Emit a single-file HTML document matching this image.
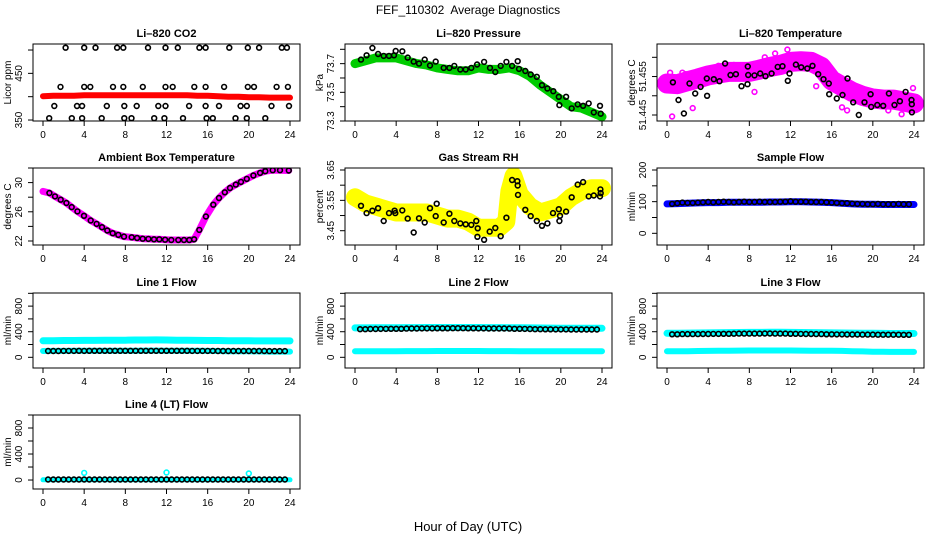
<!DOCTYPE html>
<html><head><meta charset="utf-8"><style>
html,body{margin:0;padding:0;background:#fff}
svg{display:block;font-family:"Liberation Sans",sans-serif}
</style></head><body>
<svg id="fig" width="936" height="540" viewBox="0 0 936 540" xmlns="http://www.w3.org/2000/svg">
<rect x="0" y="0" width="936" height="540" fill="#fff"/>
<text x="468" y="14" font-size="12" text-anchor="middle" xml:space="preserve">FEF_110302  Average Diagnostics</text>
<text x="468" y="531" font-size="13" text-anchor="middle">Hour of Day (UTC)</text>
</svg>
<script>
// ---- data ----
const hourly = [0,1,2,3,4,5,6,7,8,9,10,11,12,13,14,15,16,17,18,19,20,21,22,23,24];
const halfHours = [0.5,1,1.5,2,2.5,3,3.5,4,4.5,5,5.5,6,6.5,7,7.5,8,8.5,9,9.5,10,10.5,11,11.5,12,12.5,13,13.5,14,14.5,15,15.5,16,16.5,17,17.5,18,18.5,19,19.5,20,20.5,21,21.5,22,22.5,23,23.5];
const xTicks = [0,4,8,12,16,20,24];

const co2Band = [401,402,402,402,403,403,403,403,403,403,403,403,403,403,403,402,402,401,400,400,399,399,398,398,398];
const co2Hours = [2.2,4.0,5.1,7.2,7.8,10.2,11.9,13.1,15.2,15.8,18.1,19.9,21.0,23.2,23.7,
 1.7,4.0,4.6,6.8,7.8,9.7,11.9,12.6,14.7,15.8,17.6,19.9,20.5,22.7,23.8,
 1.1,3.3,3.8,6.2,7.9,9.1,11.2,11.9,14.2,15.8,17.1,19.2,19.8,22.2,23.9,
 0.6,2.8,3.8,5.7,7.9,8.6,10.8,11.8,13.6,15.9,16.5,18.7,19.8,21.6];
const co2Vals = [505,505,505,505,505,505,505,505,505,505,505,505,505,505,505,
 421,421,421,421,421,421,421,421,421,421,421,421,421,421,421,
 380,380,380,380,380,380,380,380,380,380,380,380,380,380,380,
 354,354,354,354,354,354,354,354,354,354,354,354,354,354];

const presBand = [73.70,73.72,73.74,73.74,73.74,73.72,73.70,73.69,73.67,73.66,73.65,73.65,73.67,73.66,73.66,73.67,73.65,73.61,73.55,73.50,73.45,73.40,73.39,73.36,73.33];
const presHours = [0.58,1.13,1.69,2.24,2.79,3.30,3.79,3.95,4.60,5.12,5.70,6.22,6.77,7.29,7.84,8.62,9.17,9.65,10.23,10.76,11.30,11.86,12.54,13.12,13.63,14.16,14.71,15.26,15.81,15.94,16.55,17.07,17.66,18.17,18.69,19.27,19.80,19.86,20.51,21.06,21.64,22.16,22.71,23.20,23.81,23.87];
const presVals = [73.728,73.758,73.809,73.767,73.754,73.754,73.758,73.788,73.786,73.742,73.714,73.700,73.728,73.687,73.714,73.670,73.670,73.684,73.659,73.659,73.670,73.694,73.712,73.670,73.642,73.684,73.712,73.684,73.717,73.663,73.649,73.624,73.608,73.550,73.527,73.508,73.469,73.411,73.469,73.388,73.416,73.406,73.423,73.360,73.406,73.351];

const tempBand = [51.4532,51.4530,51.4538,51.4545,51.4553,51.4558,51.4562,51.4562,51.4562,51.4568,51.4575,51.4580,51.4588,51.4590,51.4588,51.4575,51.4540,51.4525,51.4510,51.4500,51.4493,51.4490,51.4490,51.4485,51.4480];
const tempHours = [0.57,1.12,1.64,2.19,2.74,3.26,3.87,3.90,4.55,5.10,5.65,6.17,6.69,7.24,7.82,7.85,7.89,8.50,9.06,9.57,10.16,10.76,11.22,11.74,11.90,12.52,13.04,13.63,14.14,14.69,15.21,15.72,15.76,16.50,17.05,17.54,18.09,18.64,19.19,19.78,19.84,20.43,21.01,21.56,22.11,22.63,23.18,23.76,23.79,23.80];
const tempVals = [51.4535,51.4489,51.4454,51.4532,51.4506,51.4523,51.4545,51.4500,51.4543,51.4538,51.4584,51.4554,51.4556,51.4525,51.4530,51.4576,51.4554,51.4553,51.4558,51.4551,51.4558,51.4575,51.4577,51.4539,51.4558,51.4581,51.4574,51.4571,51.4578,51.4556,51.4543,51.4532,51.4504,51.4493,51.4502,51.4545,51.4483,51.4450,51.4483,51.4504,51.4471,51.4476,51.4474,51.4506,51.4476,51.4486,51.4510,51.4489,51.4478,51.4457];
const tempOutHours = [0.3,0.5,1.5,1.8,2.5,5.0,6.5,8.5,9.5,10.5,11.7,14.5,17.0,17.5,21.5,22.8,23.5,23.9];
const tempOutVals = [51.4560,51.4446,51.4560,51.4556,51.4468,51.4578,51.4580,51.4510,51.4600,51.4610,51.4620,51.4525,51.4470,51.4462,51.4462,51.4452,51.4475,51.4520];

const ambHours = [0,0.62,1.17,1.72,2.27,2.79,3.34,3.98,4.63,5.21,5.73,6.25,6.77,7.32,7.87,8.62,9.14,9.69,10.24,10.79,11.30,11.86,12.47,13.15,13.70,14.22,14.68,15.19,15.83,16.55,17.10,17.66,18.17,18.73,19.24,19.80,20.44,21.09,21.60,22.32,23.03,23.88];
const ambVals = [28.80,28.57,28.11,27.66,27.20,26.64,26.05,25.45,24.80,24.34,23.89,23.43,23.06,22.83,22.60,22.51,22.41,22.32,22.28,22.23,22.23,22.18,22.14,22.14,22.14,22.14,22.23,23.52,25.36,26.97,27.89,28.67,29.26,29.72,30.09,30.51,30.97,31.33,31.56,31.70,31.70,31.66];

const rhBandHours = [0,1,2,3,4,5,6,7,8,9,10,11,12,13,14,14.7,15,15.4,16,17,18,19,20,21,22,23,24];
const rhBand = [3.56,3.54,3.53,3.52,3.51,3.51,3.51,3.51,3.50,3.49,3.49,3.48,3.46,3.46,3.46,3.48,3.58,3.63,3.57,3.53,3.51,3.52,3.53,3.56,3.58,3.59,3.59];
const rhHours = [0.58,1.13,1.69,2.24,2.79,3.30,3.85,3.92,4.60,5.12,5.70,6.22,6.77,7.29,7.84,7.94,8.62,9.17,9.65,10.23,10.76,11.30,11.79,11.92,11.89,12.54,13.09,13.63,14.16,14.71,15.26,15.77,15.81,15.84,16.55,17.07,17.66,18.17,18.69,19.24,19.80,19.86,19.92,20.51,21.06,21.64,22.16,22.71,23.20,23.81,23.84,23.87];
const rhVals = [3.532,3.508,3.516,3.524,3.482,3.508,3.516,3.508,3.517,3.490,3.444,3.491,3.477,3.524,3.498,3.539,3.477,3.506,3.482,3.474,3.471,3.469,3.482,3.458,3.430,3.420,3.447,3.459,3.432,3.493,3.617,3.613,3.599,3.568,3.519,3.498,3.482,3.466,3.474,3.508,3.521,3.482,3.499,3.513,3.560,3.602,3.610,3.563,3.566,3.563,3.586,3.574];

const sampleBand = [93,94,95,96,97,97,98,98,98,98,99,99,100,100,99,98,97,95,93,92,92,91,91,91,91];
const sampleVals = [93,95,97,96,96,97,98,99,98,99,100,99,98,99,100,99,99,100,99,99,99,100,100,101,100,100,100,99,99,99,98,97,96,95,95,94,93,93,92,92,93,92,92,92,93,92,92];

const l1Upper = [258,260,262,263,264,265,266,268,268,270,270,272,270,268,266,265,262,262,260,258,258,256,256,256,256];
const l1Lower = [98,100,100,102,102,103,103,104,104,104,105,105,104,104,103,103,100,98,96,95,94,92,90,90,90];
const l1Vals = [98,99,99,100,100,100,101,100,101,101,101,101,102,101,101,101,101,101,102,102,102,102,102,101,101,101,101,101,100,100,100,100,100,99,99,99,99,99,98,98,98,98,98,97,97,97,97];

const l2Upper = [460,460,462,462,462,464,465,466,466,466,466,466,466,465,464,463,462,460,458,456,455,455,455,454,454];
const l2Lower = [95,95,96,96,96,97,97,97,98,98,98,98,98,97,97,97,96,96,95,95,95,94,94,94,94];
const l2Vals = [440,440,442,442,444,444,445,445,446,448,450,450,452,452,452,453,454,454,455,455,455,454,454,452,452,450,450,450,450,448,446,445,444,442,440,440,438,438,436,436,436,435,435,435,435,434,434];

const l3Upper = [375,376,378,380,382,384,386,388,390,390,392,392,390,388,386,384,382,380,378,376,375,374,372,372,372];
const l3Lower = [95,95,96,98,100,102,104,105,106,106,106,106,106,105,104,103,102,100,96,92,88,86,85,85,85];
const l3Vals = [360,360,362,362,362,363,364,365,366,366,368,368,369,370,370,370,370,371,372,372,370,370,370,368,368,366,365,364,363,362,360,360,358,358,357,356,356,355,355,355,354,354,354,353,353,352,352];

const l4Band = [4,4,4,4,4,4,4,4,4,4,4,4,4,4,4,4,4,4,4,4,4,4,4,4,4];
const l4Vals = [8,8,8,8,8,8,8,8,8,8,8,8,8,8,8,8,8,8,8,8,8,8,8,8,8,8,8,8,8,8,8,8,8,8,8,8,8,8,8,8,8,8,8,8,8,8,8];
const l4SpikeHours = [4,12,20];
const l4SpikeVals = [110,115,100];

// ---- layout ----
const NS = "http://www.w3.org/2000/svg";
const svg = document.getElementById('fig');
const colLeft = [33,345,657];
const boxW = 267;
const rowBox = [[44,121],[168,245],[293,368],[415,489]];
const flowTicks = [0,200,400,600,800,1000];
const flowLabels = ['0','','400','','800',''];

const panels = [
 {key:'co2',c:0,r:0,title:'Li\u2013820 CO2',ylab:'Licor ppm',ylim:[347.9,512.9],ticks:[350,400,450,500],labels:['350','','450','']},
 {key:'pressure',c:1,r:0,title:'Li\u2013820 Pressure',ylab:'kPa',ylim:[73.3,73.837],ticks:[73.3,73.4,73.5,73.6,73.7,73.8],labels:['73.3','','73.5','','73.7','']},
 {key:'temperature',c:2,r:0,title:'Li\u2013820 Temperature',ylab:'degrees C',ylim:[51.44344,51.46346],ticks:[51.445,51.45,51.455,51.46],labels:['51.445','','51.455','']},
 {key:'ambient',c:0,r:1,title:'Ambient Box Temperature',ylab:'degrees C',ylim:[21.45,32],ticks:[22,24,26,28,30,32],labels:['22','','26','','30','']},
 {key:'rh',c:1,r:1,title:'Gas Stream RH',ylab:'percent',ylim:[3.4029,3.6566],ticks:[3.45,3.5,3.55,3.6,3.65],labels:['3.45','','3.55','','3.65']},
 {key:'sample',c:2,r:1,title:'Sample Flow',ylab:'ml/min',ylim:[-36.9,206.3],ticks:[0,50,100,150,200],labels:['0','','100','','200']},
 {key:'line1',c:0,r:2,title:'Line 1 Flow',ylab:'ml/min',ylim:[-167,1005],ticks:flowTicks,labels:flowLabels},
 {key:'line2',c:1,r:2,title:'Line 2 Flow',ylab:'ml/min',ylim:[-167,1005],ticks:flowTicks,labels:flowLabels},
 {key:'line3',c:2,r:2,title:'Line 3 Flow',ylab:'ml/min',ylim:[-167,1005],ticks:flowTicks,labels:flowLabels},
 {key:'line4',c:0,r:3,title:'Line 4 (LT) Flow',ylab:'ml/min',ylim:[-138,1000],ticks:flowTicks,labels:flowLabels}
];
const P = {};

function mk(tag, attrs, parent){
  const e = document.createElementNS(NS, tag);
  for (const k in attrs) e.setAttribute(k, attrs[k]);
  parent.appendChild(e);
  return e;
}
function X(p,h){ return colLeft[p.c] + 10 + h*(247/24); }
function Y(p,v){ const [t,b]=rowBox[p.r]; return b - (v-p.ylim[0])/(p.ylim[1]-p.ylim[0])*(b-t); }

panels.forEach(p=>{
  P[p.key]=p;
  const L=colLeft[p.c], [T,B]=rowBox[p.r];
  const g = mk('g',{},svg);
  
  
  p.g = g;
  const cp = mk('clipPath',{id:'clip-'+p.key},g);
  mk('rect',{x:L,y:T,width:boxW,height:B-T},cp);
  p.plot = mk('g',{'clip-path':'url(#clip-'+p.key+')'},g);
  
  
  const tt = mk('text',{x:L+boxW/2,y:T-7,'font-size':11,'font-weight':'bold','text-anchor':'middle'},g);
  tt.textContent = p.title;
  
  
  xTicks.forEach(h=>{
    const x=X(p,h);
    const tk = mk('line',{x1:x,x2:x,y1:B,y2:B+5,stroke:'#000','stroke-width':1},g);
    
    
    const lb = mk('text',{x:x,y:B+17,'font-size':10,'text-anchor':'middle'},g);
    lb.textContent = String(h);
    
    
  });
  p.ticks.forEach((v,i)=>{
    const y=Y(p,v);
    const tk = mk('line',{x1:L-5,x2:L,y1:y,y2:y,stroke:'#000','stroke-width':1},g);
    
    
    if (p.labels[i]) {
      const lb = mk('text',{x:L-11,y:y,'font-size':10,'text-anchor':'middle',transform:'rotate(-90 '+(L-11)+' '+y+')'},g);
      lb.textContent = p.labels[i];
      
      
    }
  });
  const yl = mk('text',{x:L-22,y:(T+B)/2,'font-size':10,'text-anchor':'middle',transform:'rotate(-90 '+(L-22)+' '+((T+B)/2)+')'},g);
  yl.textContent = p.ylab;
  
  
  const box = mk('rect',{x:L,y:T,width:boxW,height:B-T,fill:'none',stroke:'#000','stroke-width':1},g);
  
  
});

function band(key, hours, vals, color, w, name){
  const p=P[key];
  const pts = hours.map((h,i)=>X(p,h).toFixed(1)+','+Y(p,vals[i]).toFixed(1)).join(' ');
  const e = mk('polyline',{points:pts,fill:'none',stroke:color,'stroke-width':w,'stroke-linejoin':'round','stroke-linecap':'round'},p.plot);
  
  
}
function dots(key, hours, vals, color, name, r){
  const p=P[key];
  const g = mk('g',{},p.plot);
  
  
  hours.forEach((h,i)=>{
    if (vals[i]===undefined) return;
    const c = mk('circle',{cx:X(p,h).toFixed(1),cy:Y(p,vals[i]).toFixed(1),r:r||2.4,fill:'none',stroke:color,'stroke-width':1.6},g);
    
    
  });
}

band('co2', hourly, co2Band, '#ff0000', 6, 'co2-average-band');
dots('co2', co2Hours, co2Vals, '#000', 'co2-sample-points');

band('pressure', hourly, presBand, '#00cc00', 9, 'pressure-average-band');
dots('pressure', presHours, presVals, '#000', 'pressure-sample-points');

band('temperature', hourly, tempBand, '#ff00ff', 20, 'temperature-average-band');
dots('temperature', tempOutHours, tempOutVals, '#ff00ff', 'temperature-scatter-points');
dots('temperature', tempHours, tempVals, '#000', 'temperature-sample-points');

band('ambient', ambHours, ambVals, '#ff00ff', 7, 'ambient-average-band');
dots('ambient', ambHours.slice(1), ambVals.slice(1), '#000', 'ambient-sample-points');

band('rh', rhBandHours, rhBand, '#ffff00', 18, 'rh-average-band');
dots('rh', rhHours, rhVals, '#000', 'rh-sample-points');

band('sample', hourly, sampleBand, '#0000ff', 7, 'sample-flow-band');
dots('sample', halfHours, sampleVals, '#000', 'sample-flow-points');

band('line1', hourly, l1Upper, '#00ffff', 7, 'line1-upper-band');
band('line1', hourly, l1Lower, '#00ffff', 6, 'line1-lower-band');
dots('line1', halfHours, l1Vals, '#000', 'line1-points');

band('line2', hourly, l2Upper, '#00ffff', 7, 'line2-upper-band');
band('line2', hourly, l2Lower, '#00ffff', 6, 'line2-lower-band');
dots('line2', halfHours, l2Vals, '#000', 'line2-points');

band('line3', hourly, l3Upper, '#00ffff', 7, 'line3-upper-band');
band('line3', hourly, l3Lower, '#00ffff', 6, 'line3-lower-band');
dots('line3', halfHours, l3Vals, '#000', 'line3-points');

band('line4', hourly, l4Band, '#00ffff', 5, 'line4-band');
dots('line4', l4SpikeHours, l4SpikeVals, '#00ffff', 'line4-spike-points');
dots('line4', halfHours, l4Vals, '#000', 'line4-points');
</script>
</body></html>
